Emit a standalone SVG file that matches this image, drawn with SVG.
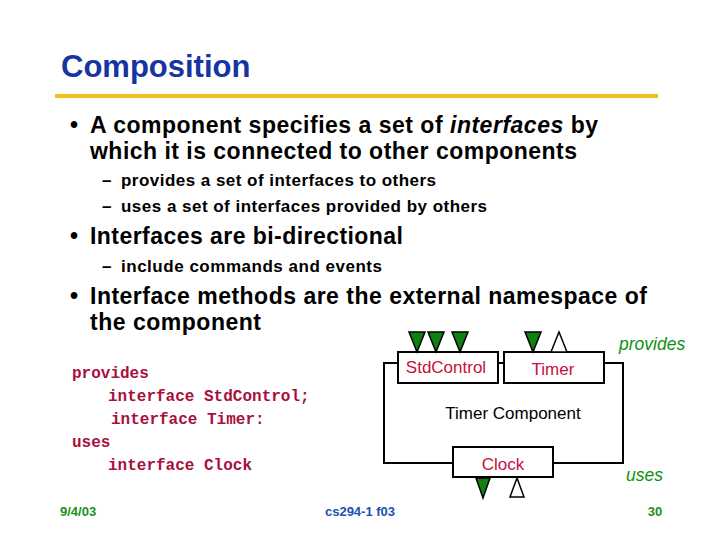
<svg xmlns="http://www.w3.org/2000/svg" width="720" height="540" viewBox="0 0 720 540">
<style>
.t{font-family:"Liberation Sans",Arial,sans-serif}
.b1{font-size:23px;font-weight:bold;fill:#000}
.b2{font-size:17px;font-weight:bold;fill:#000}
.code{font-family:"Liberation Mono","Courier New",monospace;font-size:16px;font-weight:bold;fill:#a8103c}
.lbl{font-family:"Liberation Sans",Arial,sans-serif;font-size:17px;fill:#c8103c;text-anchor:middle}
.gi{font-family:"Liberation Sans",Arial,sans-serif;font-size:17.5px;font-style:italic;fill:#109010}
.box{fill:#fff;stroke:#000;stroke-width:2}
.ln{fill:none;stroke:#000;stroke-width:2}
.gt{fill:#108010;stroke:#000;stroke-width:1.5}
.wt{fill:#fff;stroke:#000;stroke-width:1.5}
.ft{font-family:"Liberation Sans Narrow","Liberation Sans",Arial,sans-serif;font-size:13px;font-weight:bold}
</style>
<rect width="720" height="540" fill="#fff"/>
<text class="t" x="61" y="77" font-size="31" font-weight="bold" fill="#1535a0">Composition</text>
<rect x="55" y="94" width="603" height="4" fill="#f0c020"/>

<text class="t b1" x="70" y="133">•</text>
<text class="t b1" x="90" y="133" textLength="508" lengthAdjust="spacing">A component specifies a set of <tspan font-style="italic">interfaces</tspan> by</text>
<text class="t b1" x="90" y="159" textLength="487" lengthAdjust="spacing">which it is connected to other components</text>
<text class="t b2" x="102" y="186">–</text>
<text class="t b2" x="121" y="186" textLength="315" lengthAdjust="spacing">provides a set of interfaces to others</text>
<text class="t b2" x="102" y="212">–</text>
<text class="t b2" x="121" y="212" textLength="366" lengthAdjust="spacing">uses a set of interfaces provided by others</text>
<text class="t b1" x="70" y="244">•</text>
<text class="t b1" x="90" y="244" textLength="313" lengthAdjust="spacing">Interfaces are bi-directional</text>
<text class="t b2" x="102" y="272">–</text>
<text class="t b2" x="121" y="272" textLength="261" lengthAdjust="spacing">include commands and events</text>
<text class="t b1" x="70" y="304">•</text>
<text class="t b1" x="90" y="304" textLength="557" lengthAdjust="spacing">Interface methods are the external namespace of</text>
<text class="t b1" x="90" y="330" textLength="171" lengthAdjust="spacing">the component</text>

<g id="code">
<text class="code" x="72" y="378">provides</text>
<text class="code" x="108" y="401">interface StdControl;</text>
<text class="code" x="111" y="424">interface Timer:</text>
<text class="code" x="72" y="447">uses</text>
<text class="code" x="108" y="470">interface Clock</text>
</g>

<g id="connectors">
<polyline class="ln" points="398,363 384,363 384,463 453,463"/>
<polyline class="ln" points="553,463 623,463 623,363 604,363"/>
<line class="ln" x1="498" y1="363" x2="504" y2="363"/>
</g>

<g id="timer-component">
<text class="t" x="513" y="419" font-size="17" text-anchor="middle" fill="#000">Timer Component</text>
</g>

<g id="stdcontrol">
<rect class="box" x="398" y="352" width="100" height="31"/>
<text class="lbl" x="446" y="373">StdControl</text>
<polygon class="gt" points="409,332 425,332 417,352"/>
<polygon class="gt" points="428,332 444,332 436,352"/>
<polygon class="gt" points="452,332 468,332 460,352"/>
</g>

<g id="timer">
<rect class="box" x="504" y="352" width="100" height="31"/>
<text class="lbl" x="553" y="375">Timer</text>
<polygon class="gt" points="525,332 541,332 533,352"/>
<polygon class="wt" points="559,332 551,352 567,352"/>
</g>

<g id="clock">
<rect class="box" x="453" y="447" width="100" height="30"/>
<text class="lbl" x="503" y="470">Clock</text>
<polygon class="gt" points="476,478 490,478 483,498"/>
<polygon class="wt" points="517,478 510,497 524,497"/>
</g>

<text class="gi" x="619" y="350">provides</text>
<text class="gi" x="626" y="481">uses</text>

<text class="ft" x="60" y="516" fill="#209020">9/4/03</text>
<text class="ft" x="360" y="516" fill="#2050b0" text-anchor="middle">cs294-1 f03</text>
<text class="ft" x="655" y="516" fill="#209020" text-anchor="middle">30</text>
</svg>
